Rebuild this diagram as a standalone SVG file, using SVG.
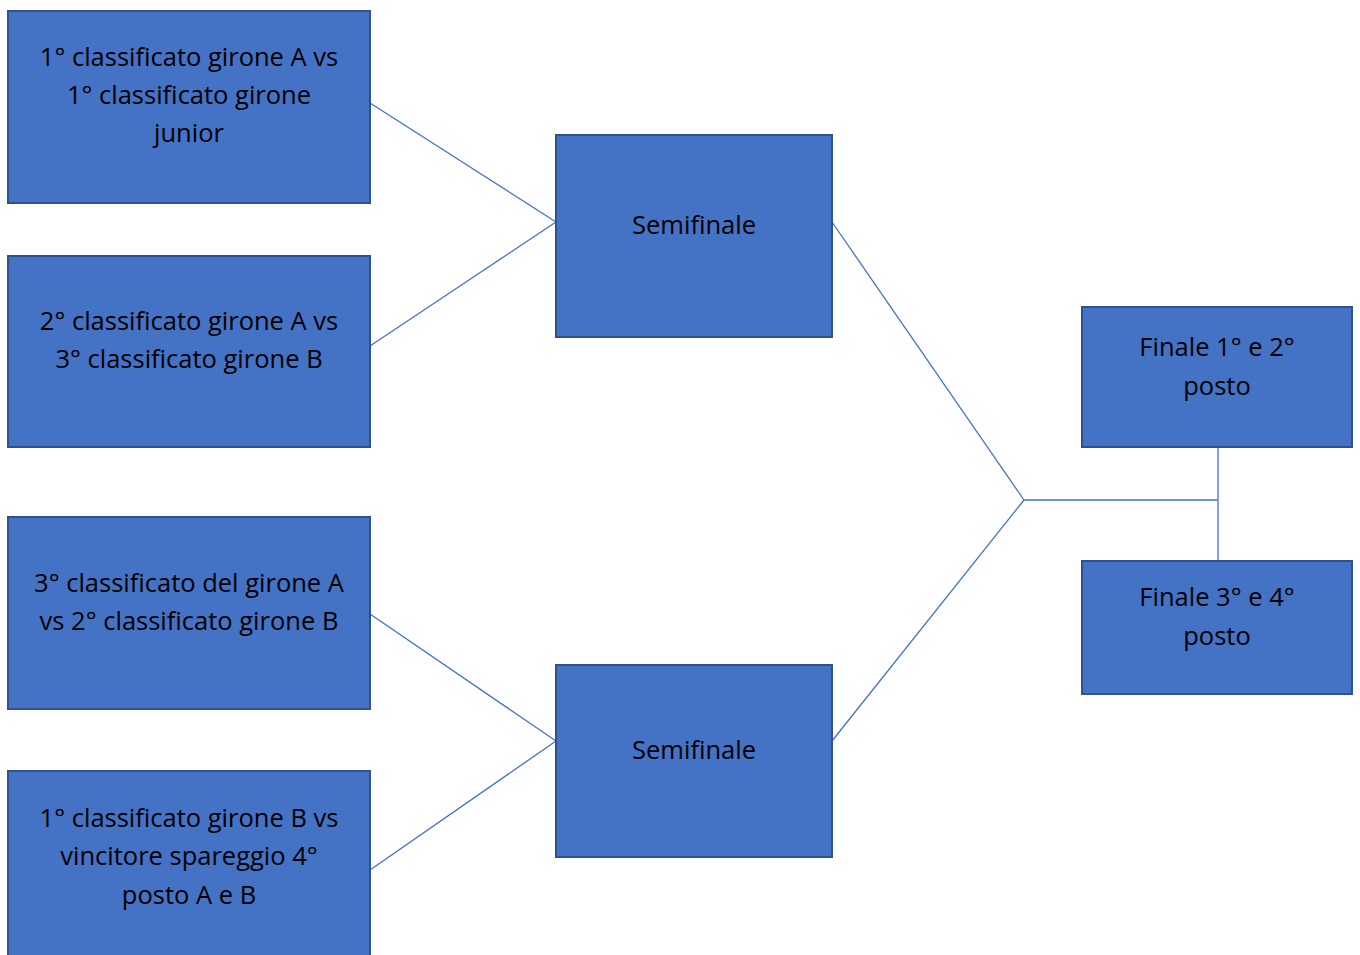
<svg xmlns="http://www.w3.org/2000/svg" width="1360" height="955" viewBox="0 0 1360 955">
<style>
.box{fill:#4472C4;stroke:#2F528F;stroke-width:2}
.lbl{font-family:"Open Sans","Liberation Sans",Arial,sans-serif;font-size:25.5px;fill:#000;text-anchor:middle}
.con{stroke:#4472C4;stroke-width:1.3;fill:none}
</style>
<rect width="1360" height="955" fill="#fff"/>
<g id="connectors">
<line class="con" x1="370" y1="103" x2="556" y2="222"/>
<line class="con" x1="370" y1="346" x2="556" y2="222"/>
<line class="con" x1="370" y1="614" x2="556" y2="741"/>
<line class="con" x1="370" y1="870" x2="556" y2="741"/>
<line class="con" x1="832" y1="222" x2="1024" y2="500"/>
<line class="con" x1="832" y1="741" x2="1024" y2="500"/>
<line class="con" x1="1024" y1="500" x2="1218" y2="500"/>
<line class="con" x1="1218" y1="447" x2="1218" y2="560"/>
</g>
<g id="m1">
<rect class="box" x="8" y="11" width="362" height="192"/>
<text class="lbl"><tspan x="189" y="66">1° classificato girone A vs</tspan><tspan x="189" y="104">1° classificato girone</tspan><tspan x="189" y="142">junior</tspan></text>
</g>
<g id="m2">
<rect class="box" x="8" y="256" width="362" height="191"/>
<text class="lbl"><tspan x="189" y="330">2° classificato girone A vs</tspan><tspan x="189" y="368">3° classificato girone B</tspan></text>
</g>
<g id="m3">
<rect class="box" x="8" y="517" width="362" height="192"/>
<text class="lbl"><tspan x="189" y="592">3° classificato del girone A</tspan><tspan x="189" y="630">vs 2° classificato girone B</tspan></text>
</g>
<g id="m4">
<rect class="box" x="8" y="771" width="362" height="200"/>
<text class="lbl"><tspan x="189" y="827">1° classificato girone B vs</tspan><tspan x="189" y="865">vincitore spareggio 4°</tspan><tspan x="189" y="904">posto A e B</tspan></text>
</g>
<g id="semi1">
<rect class="box" x="556" y="135" width="276" height="202"/>
<text class="lbl" x="694" y="234">Semifinale</text>
</g>
<g id="semi2">
<rect class="box" x="556" y="665" width="276" height="192"/>
<text class="lbl" x="694" y="759">Semifinale</text>
</g>
<g id="final12">
<rect class="box" x="1082" y="307" width="270" height="140"/>
<text class="lbl"><tspan x="1217" y="356">Finale 1° e 2°</tspan><tspan x="1217" y="395">posto</tspan></text>
</g>
<g id="final34">
<rect class="box" x="1082" y="561" width="270" height="133"/>
<text class="lbl"><tspan x="1217" y="606">Finale 3° e 4°</tspan><tspan x="1217" y="645">posto</tspan></text>
</g>
</svg>
